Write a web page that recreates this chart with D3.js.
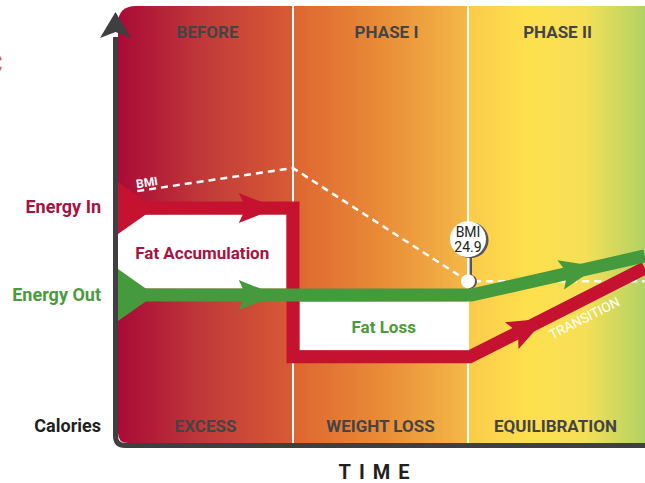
<!DOCTYPE html>
<html lang="en">
<head>
<meta charset="utf-8">
<style>
  body { margin: 0; background: white; }
  svg { display: block; font-family: Roboto, 'DejaVu Sans Condensed', sans-serif; }
  .phase-label { fill: #444446; font-size: 17px; font-weight: bold; text-anchor: middle; }
  .side-label { font-size: 18px; font-weight: bold; text-anchor: end; }
  .box-label { font-size: 17px; font-weight: bold; text-anchor: middle; }
  .energy-in { fill: #a8123e; }
  .energy-out { fill: #4b9a3e; }
  .calories { fill: #231f20; }
  .bmi-line { fill: none; stroke: white; stroke-width: 2.5; stroke-dasharray: 7,5; }
  .flow { fill: none; stroke-width: 13; stroke-linejoin: miter; }
  .time-label { font-size: 20px; font-weight: bold; letter-spacing: 8px; fill: #231f20; text-anchor: middle; }
</style>
</head>
<body>
<svg width="645" height="483"></svg>
<script src="https://d3js.org/d3.v7.min.js"></script>
<script>
const width = 645
const height = 483
const plot = { left: 118, right: 643, top: 6, bottom: 443 }

// phases along the time axis
const phaseNames = ["BEFORE", "PHASE I", "PHASE II"]
const phaseOutcomes = ["EXCESS", "WEIGHT LOSS", "EQUILIBRATION"]

// relative calorie level (0-100) against time in phase units
const energyInTime = [0, 1, 1, 2.01, 3.01]
const energyInValues = [54, 54, 19.8, 19.8, 40.2]
const energyOutTime = [0, 2.02, 3.01]
const energyOutValues = [34, 34, 43]
const bmiTime = [0.11, 1, 2, 3.01]
const bmiValues = [57.9, 63.2, 37.2, 37.2]
const bmiMarkerText = ["BMI", "24.9"]
const bmiMarkerTime = 2

// where the arrowheads sit on each flow (time units)
const energyInArrows = [0.69, 2.25]
const energyOutArrows = [0.69, 2.53]

const phaseColors = [
  ["#aa0a37", "#c13a39", "#d85b35"],
  ["#de6531", "#e98b37", "#f4b848"],
  ["#fbca4a", "#fee04d", "#f5df57", "#b2d265"]
]
const inColor = "#c41230"
const outColor = "#449a3c"
const lw = 13

const x = d3.scaleLinear().domain([0, 3]).range([plot.left, plot.right])
const y = d3.scaleLinear().domain([0, 100]).range([plot.bottom, plot.top + 2])

const svg = d3.select("svg")
const defs = svg.append("defs")

const zip = (ts, vs) => ts.map((t, i) => ({ t: t, v: vs[i] }))
const energyIn = zip(energyInTime, energyInValues)
const energyOut = zip(energyOutTime, energyOutValues)
const bmi = zip(bmiTime, bmiValues)

// rounded background shape
const r = 18
defs.append("clipPath").attr("id", "bg-clip")
  .append("path")
  .attr("d", `M${plot.left + r},${plot.top} H${width} V${plot.bottom} H${plot.left + 10}
    Q${plot.left},${plot.bottom} ${plot.left},${plot.bottom - 10} V${plot.top + r}
    Q${plot.left},${plot.top} ${plot.left + r},${plot.top} Z`)

phaseColors.forEach(function (stops, i) {
  const g = defs.append("linearGradient").attr("id", "phase-" + i)
  stops.forEach(function (c, j) {
    g.append("stop").attr("offset", j / (stops.length - 1)).attr("stop-color", c)
  })
})

const bg = svg.append("g").attr("clip-path", "url(#bg-clip)")
bg.selectAll("rect")
  .data(phaseNames)
  .join("rect")
  .attr("x", (d, i) => x(i))
  .attr("y", plot.top)
  .attr("width", (d, i) => (i === 2 ? width : x(i + 1)) - x(i))
  .attr("height", plot.bottom - plot.top)
  .attr("fill", (d, i) => `url(#phase-${i})`)

// phase dividers
svg.selectAll("line.divider")
  .data([1, 2])
  .join("line")
  .attr("class", "divider")
  .attr("x1", d => x(d)).attr("x2", d => x(d))
  .attr("y1", plot.top).attr("y2", plot.bottom)
  .attr("stroke", "white").attr("stroke-width", 2)

// white areas between the flows
const accum = {
  x0: x(0), x1: x(1) - lw / 2,
  y0: y(energyInValues[0]) + lw / 2, y1: y(energyOutValues[0]) - lw / 2
}
const loss = {
  x0: x(1) + lw / 2, x1: x(2),
  y0: y(energyOutValues[0]) + lw / 2, y1: y(energyInValues[2]) - lw / 2
}
svg.selectAll("rect.box")
  .data([accum, loss])
  .join("rect")
  .attr("class", "box")
  .attr("x", d => d.x0).attr("y", d => d.y0)
  .attr("width", d => d.x1 - d.x0).attr("height", d => d.y1 - d.y0)
  .attr("fill", "white")

svg.append("text").attr("class", "box-label energy-in")
  .attr("x", (accum.x0 + accum.x1) / 2).attr("y", (accum.y0 + accum.y1) / 2 + 7)
  .text("Fat Accumulation")
svg.append("text").attr("class", "box-label energy-out")
  .attr("x", (loss.x0 + loss.x1) / 2).attr("y", (loss.y0 + loss.y1) / 2 + 7)
  .text("Fat Loss")

const line = d3.line().x(d => x(d.t)).y(d => y(d.v))

// BMI dashed trend
svg.append("path").attr("class", "bmi-line").attr("d", line(bmi))
const bmiAngle = Math.atan2(y(bmi[1].v) - y(bmi[0].v), x(bmi[1].t) - x(bmi[0].t)) * 180 / Math.PI
svg.append("text")
  .attr("transform", `translate(${x(bmi[0].t)},${y(bmi[0].v)}) rotate(${bmiAngle})`)
  .attr("x", 0).attr("y", -3)
  .attr("font-size", 12).attr("font-weight", "bold").attr("fill", "white")
  .text("BMI")

// flows
svg.append("path").attr("class", "flow").attr("stroke", inColor).attr("d", line(energyIn))
svg.append("path").attr("class", "flow").attr("stroke", outColor).attr("d", line(energyOut))

function placeOn(pts, t) {
  for (let i = 0; i < pts.length - 1; i++) {
    const a = pts[i], b = pts[i + 1]
    if (a.t !== b.t && t >= a.t && t <= b.t) {
      const f = (t - a.t) / (b.t - a.t)
      return {
        px: x(t),
        py: y(a.v + f * (b.v - a.v)),
        ang: Math.atan2(y(b.v) - y(a.v), x(b.t) - x(a.t)) * 180 / Math.PI
      }
    }
  }
}

const tail = [[0, -26], [37, 0], [0, 26]]
const head = [[0, -15], [38, 0], [0, 15], [7, 0]]

;[[energyIn, energyInArrows, inColor], [energyOut, energyOutArrows, outColor]].forEach(function (s) {
  const pts = s[0], color = s[2]
  const start = placeOn(pts, pts[0].t)
  svg.append("polygon")
    .attr("points", tail.join(" "))
    .attr("transform", `translate(${start.px},${start.py})`)
    .attr("fill", color)
  svg.selectAll(null)
    .data(s[1].map(t => placeOn(pts, t)))
    .join("polygon")
    .attr("points", head.join(" "))
    .attr("transform", d => `translate(${d.px},${d.py}) rotate(${d.ang})`)
    .attr("fill", color)
})

// TRANSITION label along the rising energy-in segment
const tr = placeOn(energyIn, 2.62)
svg.append("text")
  .attr("transform", `translate(${tr.px},${tr.py}) rotate(${tr.ang})`)
  .attr("y", 22)
  .attr("text-anchor", "middle")
  .attr("font-size", 13.5).attr("fill", "white")
  .text("TRANSITION")

// BMI 24.9 pin
const pin = placeOn(bmi, bmiMarkerTime)
const pinG = svg.append("g").attr("transform", `translate(${pin.px},${pin.py})`)
pinG.append("line").attr("x1", 2).attr("x2", 2).attr("y1", -6).attr("y2", -26)
  .attr("stroke", "#555").attr("stroke-width", 4)
pinG.append("line").attr("x1", 0.8).attr("x2", 0.8).attr("y1", -6).attr("y2", -26)
  .attr("stroke", "white").attr("stroke-width", 1.6)
pinG.append("circle").attr("cx", 2).attr("cy", 0.5).attr("r", 7).attr("fill", "#555")
pinG.append("circle").attr("cx", 0).attr("cy", 0).attr("r", 7).attr("fill", "white")
pinG.append("circle").attr("cx", 2.5).attr("cy", -41).attr("r", 18).attr("fill", "#555")
pinG.append("circle").attr("cx", 0).attr("cy", -42).attr("r", 18).attr("fill", "white")
pinG.selectAll("text")
  .data(bmiMarkerText)
  .join("text")
  .attr("x", 0).attr("y", (d, i) => -44 + i * 15)
  .attr("text-anchor", "middle").attr("font-size", 14).attr("fill", "#222")
  .text(d => d)

// axis frame
svg.append("path")
  .attr("d", `M${plot.left - 2.5},37 V${plot.bottom - 7} Q${plot.left - 2.5},${plot.bottom + 2.5} ${plot.left + 7},${plot.bottom + 2.5} H${width}`)
  .attr("fill", "none").attr("stroke", "#3f3f41").attr("stroke-width", 5)
svg.append("polygon")
  .attr("points", [[plot.left - 2.5, 12], [plot.left + 13, 38], [plot.left - 2.5, 32], [plot.left - 18, 38]].join(" "))
  .attr("fill", "#3f3f41")

// phase titles and outcomes
svg.selectAll("text.phase-top")
  .data(phaseNames)
  .join("text")
  .attr("class", "phase-label phase-top")
  .attr("x", (d, i) => (x(i) + x(i + 1)) / 2 + (i === 1 ? 6 : 2))
  .attr("y", 38)
  .text(d => d)
svg.selectAll("text.phase-bottom")
  .data(phaseOutcomes)
  .join("text")
  .attr("class", "phase-label phase-bottom")
  .attr("x", (d, i) => (x(i) + x(i + 1)) / 2)
  .attr("y", 432)
  .text(d => d)

// side labels
svg.append("text").attr("class", "side-label energy-in")
  .attr("x", 101).attr("y", y(energyInValues[0]) + 5).text("Energy In")
svg.append("text").attr("class", "side-label energy-out")
  .attr("x", 101).attr("y", y(energyOutValues[0]) + 6).text("Energy Out")
svg.append("text").attr("class", "side-label calories")
  .attr("x", 101).attr("y", 432).text("Calories")

// cropped glyph at the left edge
svg.append("text").attr("x", -14).attr("y", 73)
  .attr("font-size", 26).attr("fill", "#e0602a")
  .text("C")

svg.append("text").attr("class", "time-label")
  .attr("x", 378).attr("y", 479).text("TIME")
</script>
</body>
</html>
